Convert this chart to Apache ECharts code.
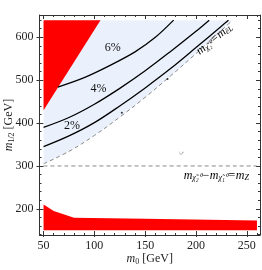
<!DOCTYPE html>
<html><head><meta charset="utf-8">
<script src="https://cdn.jsdelivr.net/npm/echarts@6/dist/echarts.min.js"></script>
<style>html,body{margin:0;padding:0;background:#fff}#c{width:262px;height:270px}</style>
</head><body><div id="c"></div>
<script>
// ---- data ----
const xMajor = [50, 100, 150, 200, 250];
const xMinor = [50, 60, 70, 80, 90, 100, 110, 120, 130, 140, 150, 160, 170, 180, 190, 200, 210, 220, 230, 240, 250, 260];
const yMajor = [200, 300, 400, 500, 600];
const yMinor = [140, 160, 180, 200, 220, 240, 260, 280, 300, 320, 340, 360, 380, 400, 420, 440, 460, 480, 500, 520, 540, 560, 580, 600, 620, 640];

// dashed line m_chi2 = m_eL (m0, m1/2)
const lineChiEL = [[50,305],[75,334],[100,371],[125,414],[150,460],[175,510],[200,562],[225,616],[236,640]];
// Z line
const lineMZ = [[50,300],[260,300]];
// contours
const contour2 = [[50,345],[75,370],[100,401],[125,440],[150,482],[175,527],[200,576],[225,626],[232,640]];
const contour4 = [[50,390],[75,413],[100,444],[125,481],[150,522],[175,567],[200,614],[213,640]];
const contour6 = [[64,484],[90,506],[115,534],[140,566],[160,600],[178,640]];
// red excluded regions
const redTriangle = [[50,640],[106,640],[50,430]];
const redBandTop = [[50,210],[52,207],[60,195],[80,179],[150,177],[260,173]];
const redBandBottom = 150;
const topEdge = 640;
// blue region
const blueLeftBottom = [50,305];
// stray marks
const dots = [[172,503],[127,424]];
const squiggle = [185,330];
// labels [m0, m1/2, text]
const pctLabels = [[118,575,'6%'],[104,480,'4%'],[78,394,'2%']];
const labelChiEL = [218,596];
const labelMZ = [220,277];

const X_MIN = 46, X_MAX = 263, Y_MIN = 139, Y_MAX = 652;
const serif = 'Liberation Serif';
const frameColor = '#333';

function polySeries(points, color, z) {
  return {
    type: 'custom', z: z, silent: true,
    xAxisIndex: 0, yAxisIndex: 0,
    data: [0],
    renderItem: function (params, api) {
      return { type: 'polygon', shape: { points: points.map(p => api.coord(p)) }, style: { fill: color, stroke: null } };
    }
  };
}

const bluePoly = [[50, topEdge]].concat(lineChiEL.slice().reverse()).concat([blueLeftBottom]);
const redBand = redBandTop.concat([[260, redBandBottom],[50, redBandBottom]]);

function xAx(pos, vals, len, inside, line, labels) {
  return {
    type: 'value', min: X_MIN, max: X_MAX, position: pos,
    axisLine: { show: line, onZero: false, lineStyle: { color: frameColor, width: 1 } },
    splitLine: { show: false },
    axisTick: { show: true, inside: inside, length: len, customValues: vals, lineStyle: { color: frameColor, width: 1 } },
    axisLabel: labels ? { show: true, customValues: vals, margin: 5, fontFamily: serif, fontSize: 12, color: '#222' } : { show: false }
  };
}
function yAx(pos, vals, len, inside, line, labels) {
  return {
    type: 'value', min: Y_MIN, max: Y_MAX, position: pos,
    axisLine: { show: line, onZero: false, lineStyle: { color: frameColor, width: 1 } },
    splitLine: { show: false },
    axisTick: { show: true, inside: inside, length: len, customValues: vals, lineStyle: { color: frameColor, width: 1 } },
    axisLabel: labels ? { show: true, customValues: vals, margin: 6, fontFamily: serif, fontSize: 12, color: '#222' } : { show: false }
  };
}

const nameRich = {
  i: { fontFamily: serif, fontStyle: 'italic', fontSize: 12, color: '#222' },
  s: { fontFamily: serif, fontSize: 8, color: '#222', verticalAlign: 'bottom', padding: [6,0,0,0] }
};

const xAxes = [
  xAx('bottom', xMajor, 4, true, true, true),
  xAx('bottom', xMinor, 2, true, false, false),
  xAx('bottom', xMajor, 2, false, false, false),
  xAx('top', xMajor, 4, true, true, false),
  xAx('top', xMinor, 2, true, false, false)
];
xAxes[0].name = '{i|m}{s|0} [GeV]';
xAxes[0].nameLocation = 'middle';
xAxes[0].nameGap = 17;
xAxes[0].nameMoveOverlap = false;
xAxes[0].nameTextStyle = { fontFamily: serif, fontSize: 12, color: '#222', rich: nameRich };

const yAxes = [
  yAx('left', yMajor, 4, true, true, true),
  yAx('left', yMinor, 2, true, false, false),
  yAx('left', yMajor, 3, false, false, false),
  yAx('right', yMajor, 4, true, true, false),
  yAx('right', yMinor, 2, true, false, false)
];
yAxes[0].name = '{i|m}{s|1/2} [GeV]';
yAxes[0].nameLocation = 'middle';
yAxes[0].nameGap = 24;
yAxes[0].nameMoveOverlap = false;
yAxes[0].nameTextStyle = { fontFamily: serif, fontSize: 12, color: '#222', rich: nameRich };

function lineSeries(data, color, width, dash, z) {
  return { type: 'line', data: data, showSymbol: false, smooth: 0.35, silent: true, z: z,
    xAxisIndex: 0, yAxisIndex: 0,
    lineStyle: { color: color, width: width, type: dash } };
}

const grayRich = {
  i: { fontFamily: serif, fontStyle: 'italic', fontSize: 12, color: '#888' },
  s: { fontFamily: serif, fontStyle: 'italic', fontSize: 8, color: '#888', verticalAlign: 'bottom', padding: [5,0,0,0] }
};

const series = [
  polySeries(bluePoly, '#eaf1fc', 1),
  polySeries(redTriangle, '#ff0000', 2),
  polySeries(redBand, '#ff0000', 2),
  lineSeries(lineChiEL, '#888', 1, [4,3], 3),
  lineSeries(lineMZ, '#888', 1, [4,3], 3),
  lineSeries(contour2, '#000', 1.3, 'solid', 4),
  lineSeries(contour4, '#000', 1.3, 'solid', 4),
  lineSeries(contour6, '#000', 1.3, 'solid', 4),
  { type: 'scatter', data: dots, symbolSize: 2, itemStyle: { color: '#000' }, silent: true, z: 5 },
  { type: 'custom', silent: true, z: 6, data: pctLabels,
    renderItem: function (params, api) {
      const p = api.coord([api.value(0), api.value(1)]);
      return { type: 'text', x: p[0], y: p[1],
        style: { text: pctLabels[params.dataIndex][2], fontFamily: serif, fontSize: 12, fill: '#111', align: 'center', verticalAlign: 'middle' } };
    } },
  { type: 'custom', silent: true, z: 6, data: [0],
    renderItem: function (params, api) {
      const p = api.coord(labelChiEL);
      const q = api.coord(labelMZ);
      const r = api.coord(squiggle);
      return { type: 'group', children: [
        { type: 'text', x: p[0], y: p[1], rotation: 0.68,
          style: { text: '{i|m}{s|χ̃₂⁰}{i|=m}{s|ẽL}', rich: grayRich, align: 'center', verticalAlign: 'middle' } },
        { type: 'text', x: q[0], y: q[1],
          style: { text: '{i|m}{s|χ̃₂⁰}{i|−m}{s|χ̃₁⁰}{i|=m}{s|Z}', rich: grayRich, align: 'center', verticalAlign: 'middle' } },
        { type: 'text', x: r[0], y: r[1], rotation: 1.57,
          style: { text: 'ς', fontFamily: serif, fontSize: 8, fill: '#999', align: 'center', verticalAlign: 'middle' } }
      ] };
    } }
];

const chart = echarts.init(document.getElementById('c'), null, { renderer: 'canvas' });
chart.setOption({
  animation: false,
  backgroundColor: '#fff',
  grid: { left: 39.5, right: 2, top: 15, bottom: 35, containLabel: false, outerBoundsMode: 'none' },
  xAxis: xAxes,
  yAxis: yAxes,
  series: series
});
</script></body></html>
